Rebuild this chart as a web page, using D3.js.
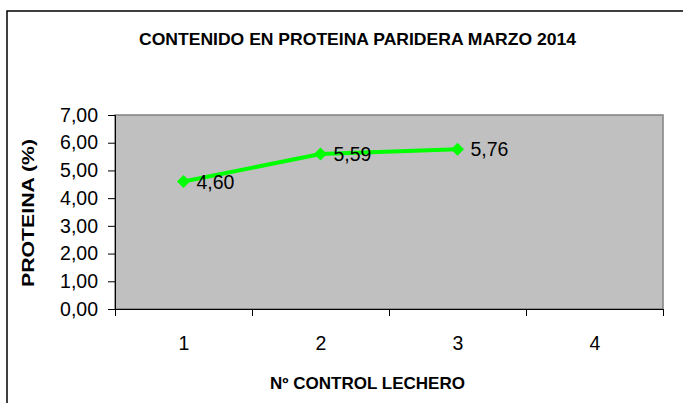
<!DOCTYPE html>
<html>
<head>
<meta charset="utf-8">
<script src="https://cdn.jsdelivr.net/npm/d3@7"></script>
<style>
  body { margin: 0; background: #fff; }
  svg { display: block; font-family: Arial, "Liberation Sans", sans-serif; }
</style>
</head>
<body>
<svg id="chart" width="683" height="403"></svg>
<script>
// Datos: contenido en proteína por control lechero
const controles = [1, 2, 3, 4];
const proteina  = [4.60, 5.59, 5.76];   // el control 4 no tiene dato
const yTicks    = [0, 1, 2, 3, 4, 5, 6, 7];

const data = proteina.map((v, i) => ({ control: controles[i], valor: v }));

const width = 683, height = 403;
const plot = { left: 115, right: 663, top: 115, bottom: 309 };

const es = d3.formatLocale({ decimal: ",", thousands: ".", grouping: [3], currency: ["", "€"] });
const fmt = es.format(".2f");

const svg = d3.select("#chart");

// marco exterior del gráfico
svg.append("rect")
  .attr("x", 7).attr("y", 11)
  .attr("width", 720).attr("height", 420)
  .attr("fill", "#fff")
  .attr("stroke", "#000")
  .attr("stroke-width", 1.5);

const x = d3.scaleLinear()
  .domain([0.5, controles.length + 0.5])
  .range([plot.left, plot.right]);

const y = d3.scaleLinear()
  .domain([0, 7])
  .range([plot.bottom, plot.top]);

// área de trazado gris
svg.append("rect")
  .attr("x", plot.left).attr("y", plot.top)
  .attr("width", plot.right - plot.left)
  .attr("height", plot.bottom - plot.top)
  .attr("fill", "#c0c0c0")
  .attr("stroke", "#808080")
  .attr("stroke-width", 1.5);

// eje Y
const yAxis = svg.append("g")
  .attr("transform", `translate(${plot.left},0)`)
  .call(d3.axisLeft(y).tickValues(yTicks).tickFormat(fmt).tickSize(7).tickPadding(10));
yAxis.selectAll("text").attr("font-size", "19.5px").attr("fill", "#000");
yAxis.selectAll("line, path").attr("stroke", "#000");

// eje X: marcas en los límites de categoría
const bounds = d3.range(0.5, controles.length + 1, 1);
const xTicks = svg.append("g")
  .attr("transform", `translate(0,${plot.bottom})`)
  .call(d3.axisBottom(x).tickValues(bounds).tickFormat("").tickSizeInner(7).tickSizeOuter(0));
xTicks.selectAll("line, path").attr("stroke", "#000");

const xLabels = svg.append("g")
  .attr("transform", `translate(0,${plot.bottom})`)
  .call(d3.axisBottom(x).tickValues(controles).tickFormat(d => d).tickSize(0).tickPadding(27));
xLabels.select(".domain").remove();
xLabels.selectAll("text").attr("font-size", "19.5px").attr("fill", "#000");

// línea de datos
const line = d3.line()
  .x(d => x(d.control))
  .y(d => y(d.valor));

svg.append("path")
  .datum(data)
  .attr("d", line)
  .attr("fill", "none")
  .attr("stroke", "#00ff00")
  .attr("stroke-width", 4);

svg.selectAll(".marker")
  .data(data)
  .join("path")
  .attr("class", "marker")
  .attr("transform", d => `translate(${x(d.control)},${y(d.valor)})`)
  .attr("d", "M0,-6.5L6.5,0L0,6.5L-6.5,0Z")
  .attr("fill", "#00ff00");

svg.selectAll(".etiqueta")
  .data(data)
  .join("text")
  .attr("class", "etiqueta")
  .attr("x", d => x(d.control) + 13)
  .attr("y", d => y(d.valor) + 7)
  .attr("font-size", "19.5px")
  .attr("fill", "#000")
  .text(d => fmt(d.valor));

// títulos
svg.append("text")
  .attr("x", 139).attr("y", 45)
  .attr("font-size", "16.5px")
  .attr("font-weight", "bold")
  .attr("textLength", 437)
  .attr("lengthAdjust", "spacingAndGlyphs")
  .text("CONTENIDO EN PROTEINA PARIDERA MARZO 2014");

svg.append("text")
  .attr("x", 270).attr("y", 389)
  .attr("font-size", "16.5px")
  .attr("font-weight", "bold")
  .attr("textLength", 195)
  .attr("lengthAdjust", "spacingAndGlyphs")
  .text("Nº CONTROL LECHERO");

svg.append("text")
  .attr("transform", "translate(34,287) rotate(-90)")
  .attr("font-size", "16.5px")
  .attr("font-weight", "bold")
  .attr("textLength", 148)
  .attr("lengthAdjust", "spacingAndGlyphs")
  .text("PROTEINA (%)");
</script>
</body>
</html>
